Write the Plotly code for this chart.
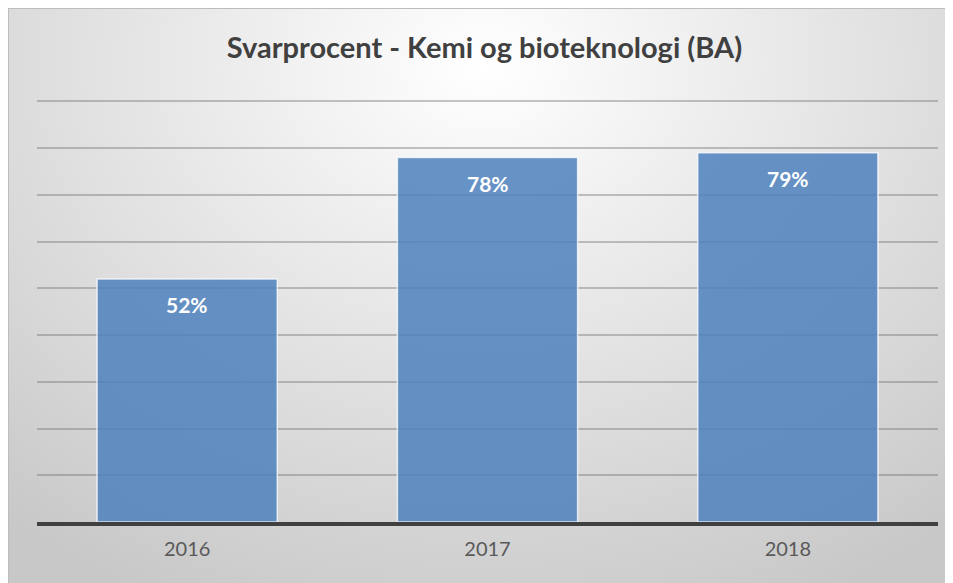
import base64
import plotly.graph_objects as go

# data
years = ["2016", "2017", "2018"]
response_rate = [0.52, 0.78, 0.79]
labels = ["52%", "78%", "79%"]
pos = list(range(len(years)))

W, H = 953, 583
L, R, T, B = 29, 23, 91, 69
plot_w = W - L - R
plot_h = H - T - B

# radial grey background like the office chart style
bg_svg = f"""<svg xmlns='http://www.w3.org/2000/svg' width='{W}' height='{H}' viewBox='0 0 {W} {H}' preserveAspectRatio='none'>
<defs><radialGradient id='g' cx='0.5' cy='0.1' r='0.78' gradientTransform='translate(0.5 0.1) scale(1 1.3) translate(-0.5 -0.1)'>
<stop offset='0' stop-color='#ffffff'/><stop offset='1' stop-color='#c8c8c8'/></radialGradient></defs>
<rect x='0' y='0' width='{W}' height='{H}' fill='url(#g)'/>
<line x1='0.5' y1='0' x2='0.5' y2='{H}' stroke='#bdbdbd' stroke-width='1'/>
<line x1='0' y1='0.5' x2='{W}' y2='0.5' stroke='#bdbdbd' stroke-width='1'/>
</svg>"""
bg_src = "data:image/svg+xml;base64," + base64.b64encode(bg_svg.encode()).decode()

fig = go.Figure()
fig.add_trace(go.Bar(
    x=pos,
    y=response_rate,
    width=0.6,
    marker=dict(color="rgba(79,129,189,0.86)", line=dict(color="rgba(255,255,255,0.75)", width=1.5)),
    hoverinfo="skip",
))

# value labels sit a bit below the top of each bar
for p, val, lab in zip(pos, response_rate, labels):
    fig.add_annotation(
        x=p, y=val, text="<b>" + lab + "</b>", showarrow=False,
        yanchor="middle", yshift=-26,
        font=dict(family="Lato, 'Open Sans', sans-serif", size=21, color="white"),
    )

fig.add_layout_image(
    source=bg_src, xref="paper", yref="paper",
    x=-L / plot_w, y=1 + T / plot_h, sizex=W / plot_w, sizey=H / plot_h,
    xanchor="left", yanchor="top", sizing="stretch", layer="below",
)

fig.update_layout(
    width=W, height=H,
    margin=dict(l=L, r=R, t=T, b=B, autoexpand=False),
    paper_bgcolor="#dcdcdc",
    plot_bgcolor="rgba(0,0,0,0)",
    showlegend=False,
    title=dict(
        text="<b>Svarprocent - Kemi og bioteknologi (BA)</b>",
        x=0.5, xanchor="center", y=0.931, yanchor="middle",
        font=dict(family="Lato, 'Open Sans', sans-serif", size=29, color="#404040"),
    ),
    xaxis=dict(
        range=[-0.5, 2.5], tickvals=pos, ticktext=years,
        showline=True, linecolor="#404040", linewidth=4,
        ticks="", showgrid=False, zeroline=False,
        tickfont=dict(family="Lato, 'Open Sans', sans-serif", size=20, color="#595959"),
        ticklabelstandoff=6,
    ),
    yaxis=dict(
        range=[0, 0.905], dtick=0.1, showticklabels=False,
        showgrid=True, gridcolor="rgba(110,110,110,0.4)", gridwidth=1.5,
        zeroline=False,
    ),
)

fig.write_html("out.html")
